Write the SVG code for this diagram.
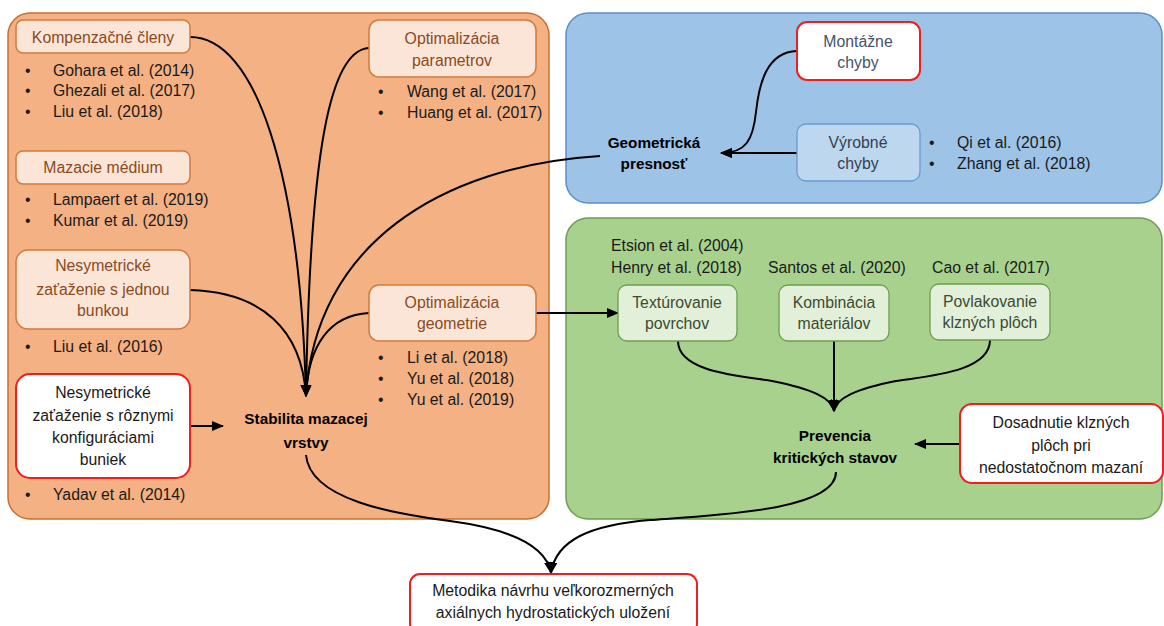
<svg xmlns="http://www.w3.org/2000/svg" width="1164" height="626" viewBox="0 0 1164 626">
<defs>
<marker id="arr" viewBox="0 0 12 10" refX="11" refY="5" markerWidth="12" markerHeight="10" markerUnits="userSpaceOnUse" orient="auto">
<path d="M0,0 L12,5 L0,10 Z" fill="#000"/>
</marker>
<style>
text{font-family:"Liberation Sans",Arial,sans-serif;font-size:15.8px;}
.c{text-anchor:middle;}
.b{font-weight:bold;fill:#000;font-size:15.3px;}
.ref{fill:#1a1a1a;}
.ob{fill:#FBE5D6;stroke:#D27A3C;stroke-width:1.5;}
.ot{fill:#8A4A24;}
.rb{fill:#fff;stroke:#F01E1E;stroke-width:2;}
.rt{fill:#1a1a1a;}
.gb{fill:#E2F0D9;stroke:#6E9C50;stroke-width:1.3;}
.gt{fill:#3B4A33;}
.con{fill:none;stroke:#000;stroke-width:2;}
</style>
</defs>
<rect width="1164" height="626" fill="#fff"/>
<!-- panels -->
<g id="panel-orange"><rect x="8" y="13" width="541" height="506" rx="22" fill="#F4B183" stroke="#C96F2E" stroke-width="1.5"/></g>
<g id="panel-blue"><rect x="566" y="13" width="596" height="190" rx="22" fill="#9DC3E6" stroke="#5B8FCB" stroke-width="1.5"/></g>
<g id="panel-green"><rect x="566" y="218" width="596" height="301" rx="22" fill="#A9D18E" stroke="#6F9C50" stroke-width="1.5"/></g>

<g id="connectors">
<path class="con" d="M190,37 C255,37 300,170 306,396" marker-end="url(#arr)"/>
<path class="con" d="M369,48 C330,50 310,150 306,396" marker-end="url(#arr)"/>
<path class="con" d="M600,156 C440,166 315,245 306,396" marker-end="url(#arr)"/>
<path class="con" d="M190,290 C262,292 302,330 306,396" marker-end="url(#arr)"/>
<path class="con" d="M369,313 C330,315 308,345 306,396" marker-end="url(#arr)"/>
<path class="con" d="M190,426 L223,426" marker-end="url(#arr)"/>
<path class="con" d="M536,313 L618,313" marker-end="url(#arr)"/>
<path class="con" d="M797,153 L721,153" marker-end="url(#arr)"/>
<path class="con" d="M797,51 C766,52 759,85 756,112 C753,140 746,153 721,153" marker-end="url(#arr)"/>
<path class="con" d="M678,341 C678,372 740,376 772,381 C812,389 832,398 834,411" marker-end="url(#arr)"/>
<path class="con" d="M834,341 L834,411" marker-end="url(#arr)"/>
<path class="con" d="M990,340 C990,372 928,376 896,381 C856,389 836,398 834,411" marker-end="url(#arr)"/>
<path class="con" d="M960,444 L915,444" marker-end="url(#arr)"/>
<path class="con" d="M306,455 C310,500 395,514 450,521 C510,529 546,545 551,573" marker-end="url(#arr)"/>
<path class="con" d="M836,472 C836,510 720,515 650,520 C590,525 556,540 551,573" marker-end="url(#arr)"/>
</g>

<!-- orange panel nodes -->
<g id="kompenzacne">
<rect class="ob" x="16" y="20" width="174" height="33" rx="7"/>
<text class="c ot" x="103" y="43">Kompenzačné členy</text>
</g>
<g id="refs-kompenzacne" class="ref">
<text x="25" y="76">•</text><text x="53" y="76">Gohara et al. (2014)</text>
<text x="25" y="96">•</text><text x="53" y="96">Ghezali et al. (2017)</text>
<text x="25" y="117">•</text><text x="53" y="117">Liu et al. (2018)</text>
</g>
<g id="mazacie">
<rect class="ob" x="16" y="151" width="174" height="33" rx="7"/>
<text class="c ot" x="103" y="173">Mazacie médium</text>
</g>
<g id="refs-mazacie" class="ref">
<text x="25" y="205">•</text><text x="53" y="205">Lampaert et al. (2019)</text>
<text x="25" y="226">•</text><text x="53" y="226">Kumar et al. (2019)</text>
</g>
<g id="nesym-jedna">
<rect class="ob" x="16" y="250" width="174" height="79" rx="12"/>
<text class="c ot" x="103" y="271">Nesymetrické</text>
<text class="c ot" x="103" y="295">zaťaženie s jednou</text>
<text class="c ot" x="103" y="316">bunkou</text>
</g>
<g id="refs-nesym-jedna" class="ref">
<text x="25" y="352">•</text><text x="53" y="352">Liu et al. (2016)</text>
</g>
<g id="nesym-roznymi">
<rect class="rb" x="16" y="374" width="174" height="104" rx="14"/>
<text class="c rt" x="103" y="398">Nesymetrické</text>
<text class="c rt" x="103" y="421">zaťaženie s rôznymi</text>
<text class="c rt" x="103" y="443">konfiguráciami</text>
<text class="c rt" x="103" y="465">buniek</text>
</g>
<g id="refs-nesym-roznymi" class="ref">
<text x="25" y="500">•</text><text x="53" y="500">Yadav et al. (2014)</text>
</g>
<g id="opt-parametrov">
<rect class="ob" x="369" y="20" width="167" height="57" rx="10"/>
<text class="c ot" x="452" y="44">Optimalizácia</text>
<text class="c ot" x="452" y="66">parametrov</text>
</g>
<g id="refs-opt-parametrov" class="ref">
<text x="378" y="97">•</text><text x="407" y="97">Wang et al. (2017)</text>
<text x="378" y="118">•</text><text x="407" y="118">Huang et al. (2017)</text>
</g>
<g id="opt-geometrie">
<rect class="ob" x="369" y="285" width="167" height="56" rx="10"/>
<text class="c ot" x="452" y="308">Optimalizácia</text>
<text class="c ot" x="452" y="329">geometrie</text>
</g>
<g id="refs-opt-geometrie" class="ref">
<text x="378" y="363">•</text><text x="407" y="363">Li et al. (2018)</text>
<text x="378" y="384">•</text><text x="407" y="384">Yu et al. (2018)</text>
<text x="378" y="405">•</text><text x="407" y="405">Yu et al. (2019)</text>
</g>
<g id="stabilita">
<text class="c b" x="306" y="424">Stabilita mazacej</text>
<text class="c b" x="306" y="448">vrstvy</text>
</g>

<!-- blue panel nodes -->
<g id="montazne">
<rect class="rb" x="797" y="22" width="123" height="58" rx="10"/>
<text class="c" x="858" y="47" fill="#44546A">Montážne</text>
<text class="c" x="858" y="68" fill="#44546A">chyby</text>
</g>
<g id="vyrobne">
<rect x="797" y="124" width="123" height="57" rx="9" fill="#BDD7EE" stroke="#6A9BD0" stroke-width="1.3"/>
<text class="c" x="858" y="148" fill="#333F50">Výrobné</text>
<text class="c" x="858" y="169" fill="#333F50">chyby</text>
</g>
<g id="refs-vyrobne" class="ref">
<text x="929" y="148">•</text><text x="957" y="148">Qi et al. (2016)</text>
<text x="929" y="169">•</text><text x="957" y="169">Zhang et al. (2018)</text>
</g>
<g id="geometricka">
<text class="c b" x="654" y="148">Geometrická</text>
<text class="c b" x="654" y="169">presnosť</text>
</g>

<!-- green panel nodes -->
<g id="refs-texturovanie" class="ref">
<text x="611" y="251">Etsion et al. (2004)</text>
<text x="611" y="273">Henry et al. (2018)</text>
</g>
<g id="refs-kombinacia" class="ref"><text x="768" y="273">Santos et al. (2020)</text></g>
<g id="refs-povlakovanie" class="ref"><text x="932" y="273">Cao et al. (2017)</text></g>
<g id="texturovanie">
<rect class="gb" x="618" y="285" width="119" height="56" rx="9"/>
<text class="c gt" x="677" y="308">Textúrovanie</text>
<text class="c gt" x="677" y="329">povrchov</text>
</g>
<g id="kombinacia">
<rect class="gb" x="779" y="285" width="110" height="56" rx="9"/>
<text class="c gt" x="834" y="308">Kombinácia</text>
<text class="c gt" x="834" y="329">materiálov</text>
</g>
<g id="povlakovanie">
<rect class="gb" x="930" y="284" width="120" height="56" rx="9"/>
<text class="c gt" x="990" y="307">Povlakovanie</text>
<text class="c gt" x="990" y="328">klzných plôch</text>
</g>
<g id="prevencia">
<text class="c b" x="835" y="441">Prevencia</text>
<text class="c b" x="835" y="463">kritických stavov</text>
</g>
<g id="dosadnutie">
<rect class="rb" x="960" y="404" width="203" height="79" rx="12"/>
<text class="c rt" x="1061" y="428">Dosadnutie klzných</text>
<text class="c rt" x="1061" y="451">plôch pri</text>
<text class="c rt" x="1061" y="473">nedostatočnom mazaní</text>
</g>

<!-- bottom -->
<g id="metodika">
<rect class="rb" x="410" y="574" width="287" height="60" rx="10"/>
<text class="c rt" x="553" y="596">Metodika návrhu veľkorozmerných</text>
<text class="c rt" x="553" y="618">axiálnych hydrostatických uložení</text>
</g>
</svg>
